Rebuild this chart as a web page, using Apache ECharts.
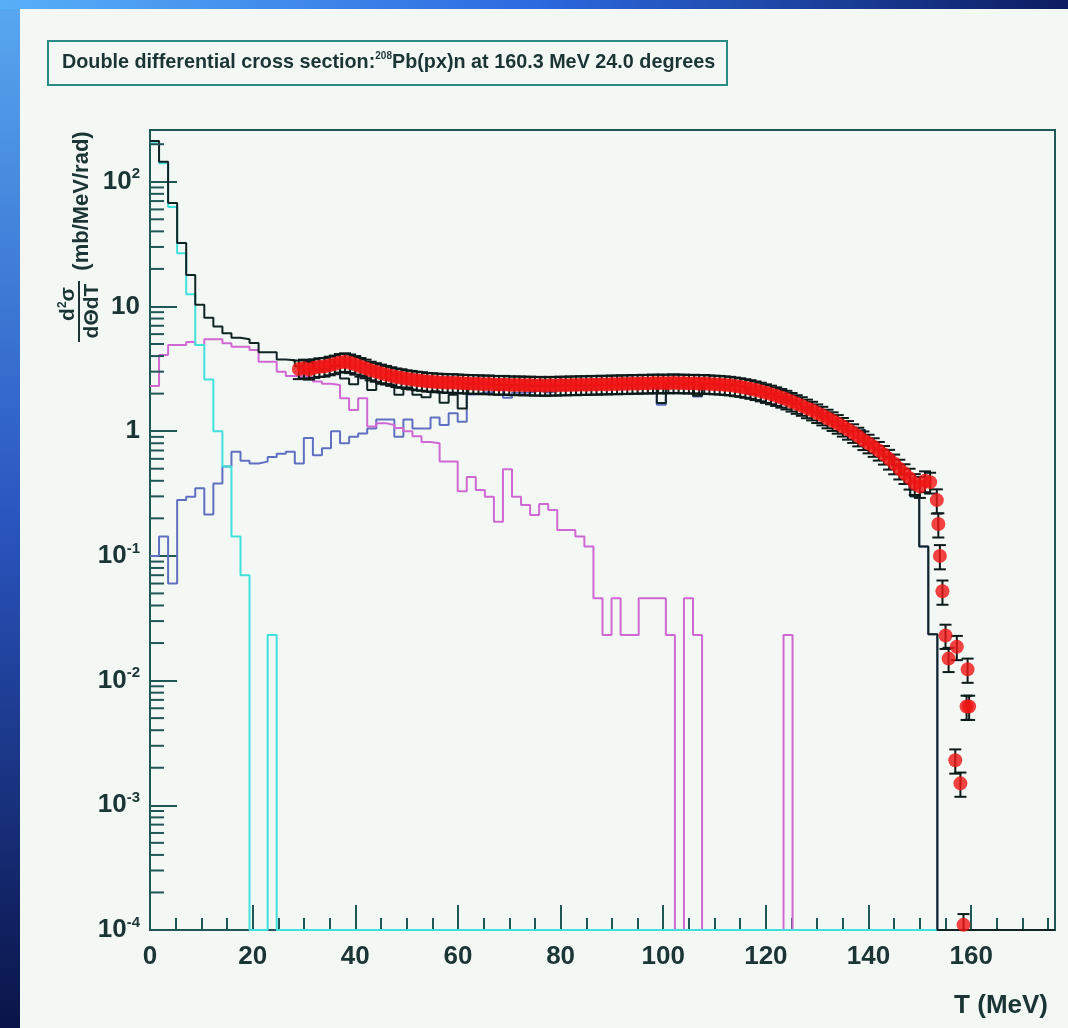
<!DOCTYPE html>
<html><head><meta charset="utf-8">
<script src="https://cdn.jsdelivr.net/npm/echarts@6/dist/echarts.min.js"></script>
<style>html,body{margin:0;padding:0;background:#f4f8f5;}#c{width:1068px;height:1028px;}</style>
</head><body><div id="c"></div>
<script>
// ---- histogram definition: 100 bins from 0 to 176.33 MeV ----
const histMin = 0;
const histMax = 176.33;
const nBins = 100;

// total (black)
const totalHist = [
  212, 145, 67.6, 32.3, 17.9, 10.3, 8.1, 6.9, 6.1, 5.6, 5.45, 5.1, 4.3, 4.3, 3.75, 3.7,
  3.32, 3.58, 3.14, 3.13, 3.35, 2.64, 2.38, 2.80, 2.14, 2.40, 2.36, 1.96, 2.24, 1.96, 1.87, 2.09, 1.69, 1.96, 1.52,
  2.4, 2.38, 2.36, 2.35, 2.34, 2.33, 2.3, 2.32, 2.3, 2.31, 2.32, 2.3, 2.33, 2.32, 2.34, 2.33, 2.36, 2.35, 2.37, 2.38, 2.4, 1.68, 2.41, 2.4, 2.42, 1.92, 2.39,
  2.37, 2.36, 2.32, 2.27, 2.0, 2.08, 1.98, 1.88, 1.76, 1.65, 1.54, 1.42, 1.31, 1.2, 1.1, 1.0, 1.02, 0.8, 0.71, 0.62, 0.53, 0.45, 0.3, 0.119, 0.0235,
  0, 0, 0, 0, 0, 0, 0, 0, 0, 0, 0, 0, 0
];
// cyan component
const cyanHist = [
  209.6, 140.8, 62.6, 26.7, 12.5, 4.9, 2.6, 1.0, 0.52, 0.143, 0.07, 0, 0, 0.0232, 0, 0,
  0, 0, 0, 0, 0, 0, 0, 0, 0, 0, 0, 0, 0, 0, 0, 0, 0, 0, 0,
  0, 0, 0, 0, 0, 0, 0, 0, 0, 0, 0, 0, 0, 0, 0, 0, 0, 0, 0, 0, 0, 0, 0, 0, 0, 0, 0,
  0, 0, 0, 0, 0, 0, 0, 0, 0, 0, 0, 0, 0, 0, 0, 0, 0, 0, 0, 0, 0, 0, 0, 0, 0,
  0, 0, 0, 0, 0, 0, 0, 0, 0, 0, 0, 0, 0
];
// magenta component
const magentaHist = [
  2.3, 4.08, 4.9, 4.9, 5.2, 4.9, 5.45, 5.45, 5.07, 4.76, 4.76, 4.48, 3.6, 3.6, 3.0, 2.77,
  2.77, 2.7, 2.5, 2.4, 2.35, 1.84, 1.48, 1.84, 1.09, 1.16, 1.12, 1.06, 1.0, 0.91, 0.82, 0.80, 0.57, 0.57, 0.33,
  0.43, 0.337, 0.298, 0.188, 0.494, 0.298, 0.256, 0.213, 0.261, 0.233, 0.161, 0.161, 0.143, 0.119, 0.0457, 0.0232, 0.0457, 0.0232, 0.0232, 0.0457, 0.0457, 0.0457, 0.0232, 0, 0.0457, 0.0232, 0,
  0, 0, 0, 0, 0, 0, 0, 0, 0.0232, 0, 0, 0, 0, 0, 0, 0, 0, 0, 0, 0, 0, 0, 0, 0, 0,
  0, 0, 0, 0, 0, 0, 0, 0, 0, 0, 0, 0, 0
];
// blue component
const blueHist = [
  0.1, 0.143, 0.06, 0.28, 0.298, 0.348, 0.215, 0.38, 0.52, 0.685, 0.58, 0.55, 0.57, 0.62, 0.66, 0.685,
  0.55, 0.88, 0.64, 0.73, 1.0, 0.80, 0.90, 0.96, 1.05, 1.24, 1.24, 0.90, 1.24, 1.05, 1.05, 1.29, 1.12, 1.39, 1.19,
  1.97, 2.04, 2.06, 2.16, 1.85, 2.03, 2.04, 2.11, 2.04, 2.08, 2.16, 2.14, 2.19, 2.2, 2.29, 2.31, 2.31, 2.33, 2.35, 2.33, 2.35, 1.63, 2.39, 2.4, 2.37, 1.9, 2.39,
  2.37, 2.36, 2.32, 2.27, 2.0, 2.08, 1.98, 1.88, 1.74, 1.65, 1.54, 1.42, 1.31, 1.2, 1.1, 1.0, 1.02, 0.8, 0.71, 0.62, 0.53, 0.45, 0.3, 0.119, 0.0235,
  0, 0, 0, 0, 0, 0, 0, 0, 0, 0, 0, 0, 0
];

// experimental data points
const dataT = [
  29,30,31,32,33,34,35,36,37,38,39,40,41,42,43,44,45,46,47,48,49,50,51,52,53,54,55,56,57,58,59,60,61,
  62,63,64,65,66,67,68,69,70,71,72,73,74,75,76,77,78,79,80,81,82,83,84,85,86,87,88,89,90,91,
  92,93,94,95,96,97,98,99,100,101,102,103,104,105,106,107,108,109,110,111,112,113,114,115,116,117,118,119,120,121,
  122,123,124,125,126,127,128,129,130,131,132,133,134,135,136,137,138,139,140,141,142,143,144,145,146,147,148,149,150,151,152,
  153.3,153.6,153.9,154.4,155.0,155.6,156.9,157.2,157.9,158.5,159.1,159.3,159.6
];
const dataY = [
  3.15,3.2,3.12,3.22,3.28,3.3,3.38,3.45,3.55,3.6,3.52,3.42,3.3,3.2,3.08,3.0,2.92,2.85,2.78,2.72,2.68,2.63,2.6,2.56,2.54,2.5,2.49,2.47,2.46,2.44,2.45,2.43,2.42,
  2.41,2.4,2.4,2.38,2.39,2.37,2.36,2.37,2.35,2.34,2.35,2.33,2.34,2.32,2.33,2.31,2.33,2.32,2.34,2.33,2.35,2.34,2.36,2.35,2.37,2.36,2.38,2.37,2.39,2.38,
  2.4,2.39,2.41,2.4,2.42,2.41,2.43,2.42,2.43,2.42,2.44,2.42,2.43,2.41,2.42,2.4,2.41,2.39,2.38,2.37,2.35,2.33,2.3,2.27,2.23,2.19,2.14,2.09,2.03,1.98,
  1.92,1.86,1.8,1.73,1.66,1.6,1.53,1.47,1.4,1.34,1.27,1.21,1.15,1.09,1.03,0.97,0.91,0.85,0.8,0.75,0.7,0.65,0.6,0.55,0.5,0.46,0.42,0.38,0.36,0.40,0.39,
  0.28,0.18,0.10,0.052,0.023,0.015,0.0023,0.0187,0.0015,0.00011,0.0062,0.0123,0.0062
];
const dataErrPct = [
  17,17,17,17,17,17,17,17,17,17,17,17,17,17,17,17,17,17,17,17,17,17,17,17,17,17,17,17,17,17,17,17,17,
  17,17,17,17,17,17,17,17,17,17,17,17,17,17,17,17,17,17,17,17,17,17,17,17,17,17,17,17,17,17,
  17,17,17,17,17,17,17,17,17,17,17,17,17,17,17,17,17,17,17,17,17,17,17,17,17,17,17,17,17,17,
  17,17,17,17,17,17,17,17,17,17,17,17,17,17,17,17,17,17,17,17,17,17,18,18,18,18,19,19,19,19,19,
  22,22,22,22,22,22,22,22,22,22,22,22,22
];

// axis ticks / labels
const xTickValues = [0, 20, 40, 60, 80, 100, 120, 140, 160];
const yTickValues = [1e-4, 1e-3, 1e-2, 1e-1, 1, 10, 100];
const yTickBase   = ['10', '10', '10', '10', '1', '10', '10'];
const yTickExp    = ['-4', '-3', '-2', '-1', '', '', '2'];
const yMinorTicks = [
  2e-4,3e-4,4e-4,5e-4,6e-4,7e-4,8e-4,9e-4,
  2e-3,3e-3,4e-3,5e-3,6e-3,7e-3,8e-3,9e-3,
  2e-2,3e-2,4e-2,5e-2,6e-2,7e-2,8e-2,9e-2,
  0.2,0.3,0.4,0.5,0.6,0.7,0.8,0.9,
  2,3,4,5,6,7,8,9,
  20,30,40,50,60,70,80,90,
  200
];
const yMin = 1e-4, yMax = 260;

// ---- build step series ----
const binW = (histMax - histMin) / nBins;
function stepData(h) {
  const out = [];
  for (let i = 0; i < h.length; i++) out.push([histMin + i * binW, Math.max(h[i], yMin)]);
  out.push([histMin + h.length * binW, Math.max(h[h.length - 1], yMin)]);
  return out;
}
const pts = dataT.map((t, i) => [t, dataY[i]]);
const errs = dataT.map((t, i) => [t, Math.max(dataY[i] * (1 - dataErrPct[i] / 100), yMin), dataY[i] * (1 + dataErrPct[i] / 100)]);

const INK = '#1b3434';
const FRAME = '#1f5656';
const FONT = '"Liberation Sans", Arial, Helvetica, sans-serif';

function histSeries(name, h, color, z) {
  return {
    name, type: 'line', data: stepData(h), step: 'end', showSymbol: false, symbol: 'none',
    lineStyle: { color, width: 2 }, z, animation: false, clip: true
  };
}

const chart = echarts.init(document.getElementById('c'), null, { renderer: 'canvas' });
chart.setOption({
  backgroundColor: '#f4f8f5',
  animation: false,
  grid: { left: 150, top: 130, width: 905, height: 800, show: true, borderColor: FRAME, borderWidth: 2, backgroundColor: 'transparent' },
  xAxis: {
    type: 'value', min: histMin, max: histMax, interval: 20,
    axisLine: { show: true, lineStyle: { color: FRAME, width: 2 } },
    axisTick: { show: true, inside: true, length: 25, lineStyle: { color: FRAME, width: 2 } },
    minorTick: { show: true, splitNumber: 4, length: 12, lineStyle: { color: FRAME, width: 2 } },
    splitLine: { show: false },
    axisLabel: {
      margin: 14, color: INK, fontFamily: FONT, fontWeight: 'bold', fontSize: 26, showMaxLabel: false,
      formatter: v => (xTickValues.indexOf(Math.round(v)) >= 0 && Math.abs(v - Math.round(v)) < 1e-6) ? String(Math.round(v)) : ''
    }
  },
  yAxis: {
    type: 'log', logBase: 10, min: yMin, max: yMax,
    axisLine: { show: true, lineStyle: { color: FRAME, width: 2 } },
    axisTick: { show: true, inside: true, length: 27, lineStyle: { color: FRAME, width: 2 } },
    splitLine: { show: false },
    axisLabel: {
      margin: 10, color: INK, fontFamily: FONT, showMaxLabel: false,
      formatter: v => {
        for (let i = 0; i < yTickValues.length; i++) {
          if (Math.abs(v - yTickValues[i]) / yTickValues[i] < 1e-6) {
            return yTickExp[i] ? '{b|' + yTickBase[i] + '}{s|' + yTickExp[i] + '}' : '{b|' + yTickBase[i] + '}';
          }
        }
        return '';
      },
      rich: {
        b: { fontSize: 26, fontWeight: 'bold', fontFamily: FONT, color: INK, lineHeight: 30 },
        s: { fontSize: 15, fontWeight: 'bold', fontFamily: FONT, color: INK, lineHeight: 14, verticalAlign: 'top' }
      }
    }
  },
  graphic: [
    { type: 'rect', shape: { x: 0, y: 0, width: 20, height: 1028 }, style: { fill: new echarts.graphic.LinearGradient(0, 0, 0, 1, [{ offset: 0, color: '#58a8f0' }, { offset: 0.5, color: '#2a56c0' }, { offset: 1, color: '#0a1448' }]) }, z: -1 },
    { type: 'rect', shape: { x: 0, y: 0, width: 1068, height: 9 }, style: { fill: new echarts.graphic.LinearGradient(0, 0, 1, 0, [{ offset: 0, color: '#58b0f8' }, { offset: 0.5, color: '#2c6ae0' }, { offset: 1, color: '#0c1c60' }]) }, z: -1 },
    { type: 'rect', shape: { x: 48, y: 41, width: 679, height: 44 }, style: { fill: 'none', stroke: '#2a8a86', lineWidth: 2 } },
    { type: 'text', x: 62, y: 63, style: {
        text: '{t|Double differential cross section:}{s|208}{t|Pb(px)n at 160.3 MeV 24.0 degrees}',
        verticalAlign: 'middle', align: 'left',
        rich: {
          t: { fontSize: 19.8, fontWeight: 'bold', fontFamily: FONT, fill: INK, lineHeight: 24 },
          s: { fontSize: 10, fontWeight: 'bold', fontFamily: FONT, fill: INK, lineHeight: 11, verticalAlign: 'top' }
        } } },
    { type: 'text', x: 82, y: 201, rotation: Math.PI / 2, style: { text: '(mb/MeV/rad)', fontSize: 22, fontWeight: 'bold', fontFamily: FONT, fill: INK, align: 'center', verticalAlign: 'middle' } },
    { type: 'text', x: 68, y: 304, rotation: Math.PI / 2, style: { text: '{a|d}{s|2}{a|σ}', align: 'center', verticalAlign: 'middle',
        rich: { a: { fontSize: 21, fontWeight: 'bold', fontFamily: FONT, fill: INK, lineHeight: 22 }, s: { fontSize: 12, fontWeight: 'bold', fontFamily: FONT, fill: INK, lineHeight: 11, verticalAlign: 'top' } } } },
    { type: 'line', shape: { x1: 79, y1: 281, x2: 79, y2: 342 }, style: { stroke: INK, lineWidth: 2 } },
    { type: 'text', x: 92, y: 311, rotation: Math.PI / 2, style: { text: 'dΘdT', fontSize: 21, fontWeight: 'bold', fontFamily: FONT, fill: INK, align: 'center', verticalAlign: 'middle' } },
    { type: 'text', x: 1048, y: 1006, style: { text: 'T (MeV)', fontSize: 26, fontWeight: 'bold', fontFamily: FONT, fill: INK, align: 'right', verticalAlign: 'middle' } }
  ],
  series: [
    histSeries('blue', blueHist, '#6070c0', 2),
    histSeries('magenta', magentaHist, '#d068d4', 3),
    histSeries('cyan', cyanHist, '#40e0dc', 4),
    histSeries('total', totalHist, '#102424', 5),
    {
      name: 'yminor', type: 'custom', data: yMinorTicks.map(v => [histMin, v]), z: 6, silent: true,
      renderItem: (params, api) => {
        const p = api.coord([api.value(0), api.value(1)]);
        return { type: 'line', shape: { x1: p[0], y1: p[1], x2: p[0] + 14, y2: p[1] }, style: { stroke: FRAME, lineWidth: 2 } };
      }
    },
    {
      name: 'errors', type: 'custom', data: errs, z: 7, clip: true, silent: true,
      renderItem: (params, api) => {
        const a = api.coord([api.value(0), api.value(1)]);
        const b = api.coord([api.value(0), api.value(2)]);
        const hw = 6, st = { stroke: '#0c1a1a', lineWidth: 2 };
        return { type: 'group', children: [
          { type: 'line', shape: { x1: a[0], y1: a[1], x2: b[0], y2: b[1] }, style: st },
          { type: 'line', shape: { x1: a[0] - hw, y1: a[1], x2: a[0] + hw, y2: a[1] }, style: st },
          { type: 'line', shape: { x1: b[0] - hw, y1: b[1], x2: b[0] + hw, y2: b[1] }, style: st }
        ] };
      }
    },
    {
      name: 'data', type: 'scatter', data: pts, symbol: 'circle', symbolSize: 14, z: 8,
      itemStyle: { color: '#f01414' }
    }
  ]
});
</script>
</body></html>
